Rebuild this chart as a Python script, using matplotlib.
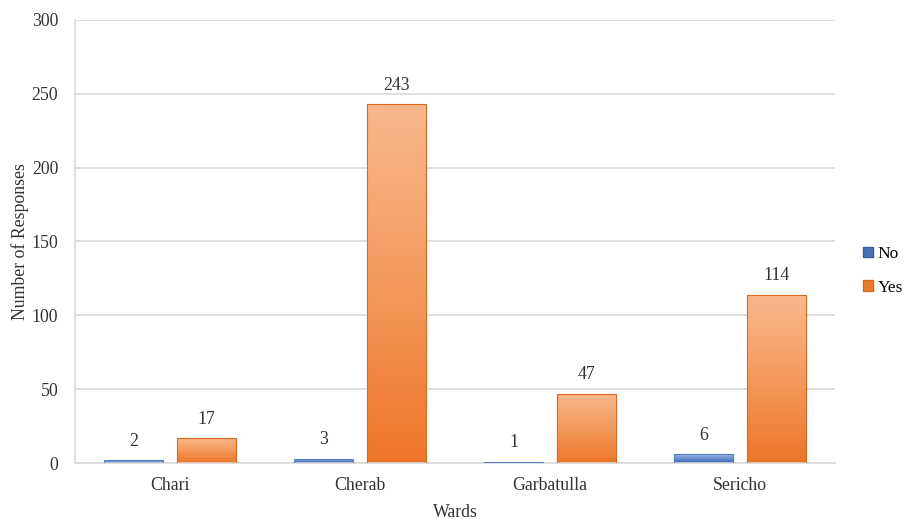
import numpy as np
import matplotlib
matplotlib.use("Agg")
import matplotlib.pyplot as plt
from matplotlib.colors import LinearSegmentedColormap
from matplotlib.patches import Patch

wards = ["Chari", "Cherab", "Garbatulla", "Sericho"]
no_vals = [2, 3, 1, 6]
yes_vals = [17, 243, 47, 114]
yticks = [0, 50, 100, 150, 200, 250, 300]

plt.rcParams['font.family'] = ['Liberation Serif', 'DejaVu Serif']
FS = 12.8

fig = plt.figure(figsize=(9.07, 5.19), dpi=100)
ax = fig.add_axes([75/907, 1-463/519, 760/907, 443/519])

x = np.arange(len(wards))
w = 0.31
off = 0.19

cmap_yes = LinearSegmentedColormap.from_list("yes", ["#EE7528", "#F49A5E", "#F9B88C"])
cmap_no = LinearSegmentedColormap.from_list("no", ["#3A64B0", "#6C8FCF", "#9DB5E2"])

def grad_bars(xs, vals, cmap, edge):
    bars = ax.bar(xs, vals, w, color="none", edgecolor=edge, linewidth=0.8, zorder=3)
    grad = np.linspace(0, 1, 256).reshape(-1, 1)
    for b in bars:
        x0, y0 = b.get_x(), b.get_y()
        x1, y1 = x0 + b.get_width(), y0 + b.get_height()
        im = ax.imshow(grad, extent=[x0, x1, y0, y1], origin="lower", cmap=cmap,
                       aspect="auto", zorder=2)
        im.set_clip_path(b)
    return bars

b_no = grad_bars(x - off, no_vals, cmap_no, "#5A7FC0")
b_yes = grad_bars(x + off, yes_vals, cmap_yes, "#D9691F")

for bars, vals in ((b_no, no_vals), (b_yes, yes_vals)):
    for b, v in zip(bars, vals):
        ax.text(b.get_x() + b.get_width()/2, v + 7, str(v), ha="center", va="bottom",
                fontsize=FS, color="#333333")

ax.set_xlim(-0.5, 3.5)
ax.set_ylim(0, 300)
ax.set_yticks(yticks)
ax.set_xticks(x)
ax.set_xticklabels(wards)
ax.tick_params(axis="both", length=0, labelsize=FS, colors="#333333")
ax.tick_params(axis="y", pad=12)
ax.tick_params(axis="x", pad=10)
ax.yaxis.grid(True, color="#D9D9D9", linewidth=1.2, zorder=0)
ax.set_axisbelow(True)
for s in ["top", "right"]:
    ax.spines[s].set_visible(False)
ax.spines["left"].set_color("#D9D9D9")
ax.spines["left"].set_linewidth(1.2)
ax.spines["bottom"].set_color("#D9D9D9")
ax.spines["bottom"].set_linewidth(1.2)

ax.set_xlabel("Wards", fontsize=FS, color="#333333", labelpad=7)
ax.set_ylabel("Number of Responses", fontsize=FS, color="#333333", labelpad=2)

handles = [Patch(facecolor="#4A70B8", edgecolor="#3A5C9C", label="No"),
           Patch(facecolor="#EE7A2C", edgecolor="#D9691F", label="Yes")]
fig.legend(handles=handles, loc="center left", bbox_to_anchor=(863/907, 1-271/519),
           frameon=False, fontsize=12.5, handlelength=0.55, handleheight=0.55,
           handletextpad=0.3, labelspacing=1.0, borderpad=0, borderaxespad=0)

fig.savefig("out.png", dpi=100)
